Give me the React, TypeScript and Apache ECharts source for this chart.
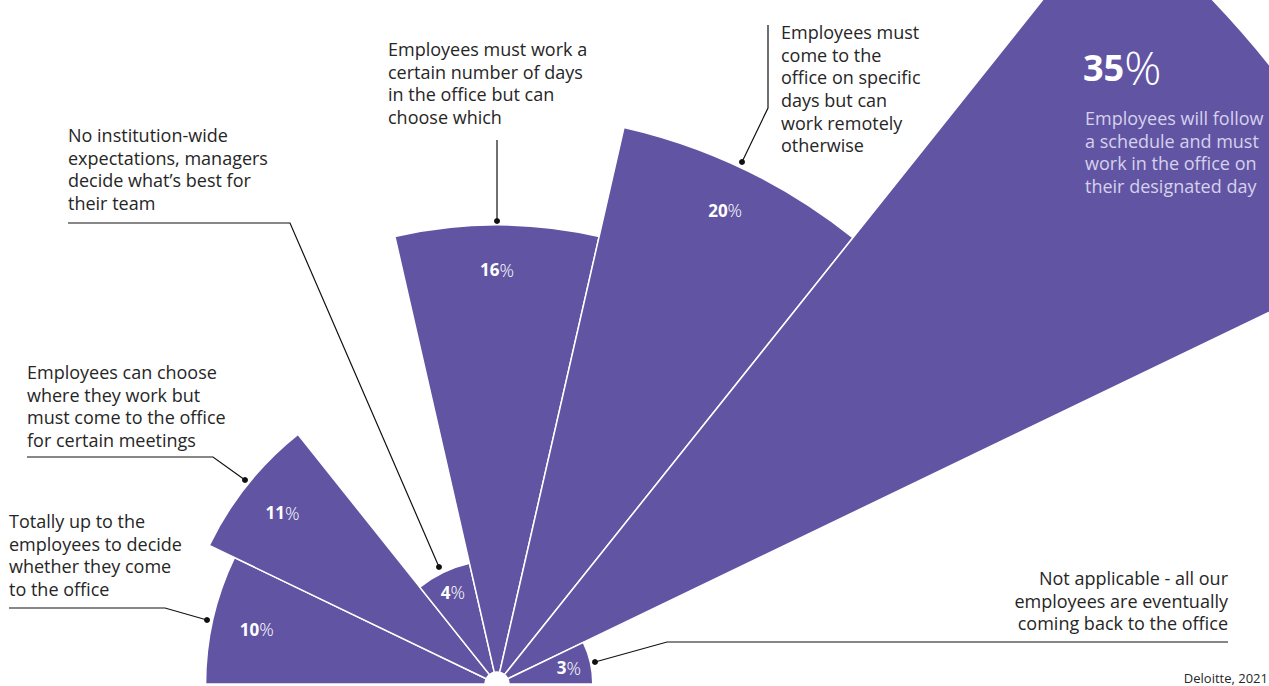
import React, { useEffect, useRef } from "react";
import * as echarts from "echarts";

const categories = [
  "Totally up to the employees to decide whether they come to the office",
  "Employees can choose where they work but must come to the office for certain meetings",
  "No institution-wide expectations, managers decide what’s best for their team",
  "Employees must work a certain number of days in the office but can choose which",
  "Employees must come to the office on specific days but can work remotely otherwise",
  "Employees will follow a schedule and must work in the office on their designated day",
  "Not applicable - all our employees are eventually coming back to the office",
];
const values = [10, 11, 4, 16, 20, 35, 3];

const PURPLE = "#6155a3";
const FONT = "'Open Sans', sans-serif";
const TEXT = "#262626";

function annotation(text: string, x: number, y: number, align: "left" | "right" = "left") {
  return {
    type: "text",
    x,
    y,
    style: {
      text,
      font: `18px ${FONT}`,
      fill: TEXT,
      lineHeight: 22.7,
      align,
      verticalAlign: "top",
    },
    z: 10,
  };
}

function leader(points: number[][]) {
  const end = points[points.length - 1];
  return [
    {
      type: "polyline",
      shape: { points },
      style: { stroke: "#111", lineWidth: 1.2, fill: "none" },
      z: 10,
    },
    {
      type: "circle",
      shape: { cx: end[0], cy: end[1], r: 3 },
      style: { fill: "#111" },
      z: 10,
    },
  ];
}

export default function App() {
  const ref = useRef<HTMLDivElement>(null);
  useEffect(() => {
    if (!ref.current) return;
    const chart = echarts.init(ref.current, undefined, { renderer: "svg" });
    const data = values.map((v) => ({
      value: v,
      label: {
        show: v !== 35,
        distance: v < 5 ? 22 : 45,
      },
    }));
    chart.setOption({
      animation: false,
      backgroundColor: "#ffffff",
      polar: { center: [497, 684], radius: [12, 990] },
      angleAxis: {
        type: "category",
        data: categories,
        startAngle: 180,
        endAngle: 0,
        clockwise: true,
        show: false,
      },
      radiusAxis: { type: "value", min: 0, max: 35, show: false },
      series: [
        {
          type: "bar",
          coordinateSystem: "polar",
          data,
          barCategoryGap: "0%",
          itemStyle: { color: PURPLE, borderColor: "#ffffff", borderWidth: 1.5 },
          label: {
            show: true,
            position: "insideEnd",
            rotate: 0,
            align: "center",
            verticalAlign: "middle",
            formatter: "{n|{c}}{p|%}",
            rich: {
              n: { fontFamily: FONT, fontWeight: "bold", fontSize: 17, color: "#ffffff" },
              p: { fontFamily: FONT, fontWeight: 300, fontSize: 18, color: "#ffffff" },
            },
          },
          silent: true,
        },
      ],
      graphic: [
        annotation("Totally up to the\nemployees to decide\nwhether they come\nto the office", 9, 509.5),
        ...leader([[9, 608], [165, 608], [207, 620]]),
        annotation("Employees can choose\nwhere they work but\nmust come to the office\nfor certain meetings", 27, 360.5),
        ...leader([[27, 457], [213, 457], [245, 480]]),
        annotation("No institution-wide\nexpectations, managers\ndecide what’s best for\ntheir team", 68, 123.5),
        ...leader([[68, 223], [290, 223], [439, 567]]),
        annotation("Employees must work a\ncertain number of days\nin the office but can\nchoose which", 388, 37.5),
        ...leader([[497, 140], [497, 221]]),
        annotation("Employees must\ncome to the\noffice on specific\ndays but can\nwork remotely\notherwise", 781, 20.5),
        ...leader([[768, 25], [768, 108], [742, 162]]),
        annotation("Not applicable - all our\nemployees are eventually\ncoming back to the office", 1228, 566.5, "right"),
        ...leader([[1228, 642], [667, 642], [595, 662]]),
        {
          type: "text",
          x: 1083,
          y: 67,
          style: {
            text: "{n|35}{p|%}",
            rich: {
              n: { fontFamily: FONT, fontWeight: "bold", fontSize: 36, fill: "#ffffff" },
              p: { fontFamily: FONT, fontWeight: 300, fontSize: 46, fill: "#ffffff" },
            },
            verticalAlign: "middle",
          },
          z: 10,
        },
        {
          type: "text",
          x: 1085,
          y: 106.5,
          style: {
            text: "Employees will follow\na schedule and must\nwork in the office on\ntheir designated day",
            font: `18px ${FONT}`,
            fill: "#d6d1ec",
            lineHeight: 22.7,
            verticalAlign: "top",
          },
          z: 10,
        },
        {
          type: "text",
          x: 1268,
          y: 678,
          style: {
            text: "Deloitte, 2021",
            font: `13px ${FONT}`,
            fill: TEXT,
            align: "right",
            verticalAlign: "middle",
          },
          z: 10,
        },
      ],
    });
    return () => chart.dispose();
  }, []);
  return (
    <div
      ref={ref}
      style={{ position: "fixed", left: 0, top: 0, width: 1269, height: 686, overflow: "hidden" }}
    />
  );
}
